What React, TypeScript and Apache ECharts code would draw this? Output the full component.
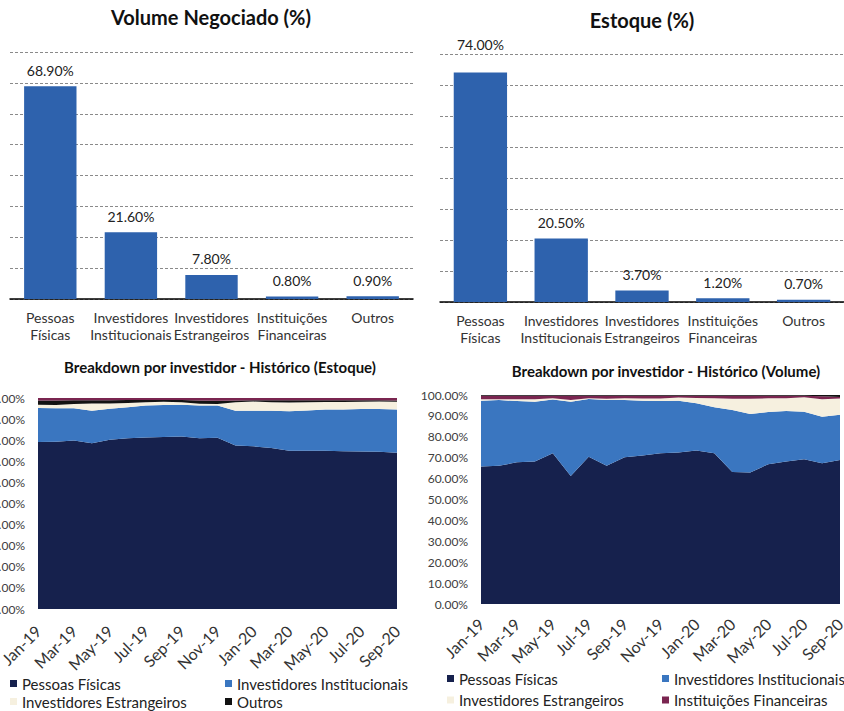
import React, { useEffect, useRef } from "react";
import * as echarts from "echarts";

const barCategories = [
  "Pessoas Físicas",
  "Investidores Institucionais",
  "Investidores Estrangeiros",
  "Instituições Financeiras",
  "Outros",
];
const volumeShares = [68.9, 21.6, 7.8, 0.8, 0.9];
const estoqueShares = [74.0, 20.5, 3.7, 1.2, 0.7];

const months = [
  "Jan-19", "Feb-19", "Mar-19", "Apr-19", "May-19", "Jun-19", "Jul-19",
  "Aug-19", "Sep-19", "Oct-19", "Nov-19", "Dec-19", "Jan-20", "Feb-20",
  "Mar-20", "Apr-20", "May-20", "Jun-20", "Jul-20", "Aug-20", "Sep-20",
];

// Histórico (Estoque)
const estPF = [79.1, 79.3, 79.9, 78.6, 80.2, 80.9, 81.3, 81.5, 81.8, 80.9, 81.2, 77.5, 77.1, 76.3, 75.0, 75.0, 75.0, 74.8, 74.7, 74.5, 74.0];
const estII = [16.2, 15.8, 15.2, 15.4, 14.7, 14.7, 15.1, 15.2, 15.0, 15.5, 15.2, 16.5, 16.9, 17.7, 18.7, 19.1, 19.5, 19.8, 20.1, 20.3, 20.5];
const estIE = [1.5, 1.6, 2.0, 3.4, 2.5, 2.0, 1.6, 1.5, 1.2, 0.9, 0.8, 4.0, 4.3, 4.0, 4.2, 3.9, 3.6, 3.5, 3.4, 3.5, 3.7];
const estOutros = [2.0, 2.1, 1.8, 1.5, 1.5, 1.4, 1.0, 0.8, 1.0, 1.5, 1.5, 0.8, 0.6, 0.9, 1.0, 0.9, 0.8, 0.8, 0.7, 0.6, 0.6];
const estIF = [1.2, 1.2, 1.1, 1.1, 1.1, 1.0, 1.0, 1.0, 1.0, 1.2, 1.3, 1.2, 1.1, 1.1, 1.1, 1.1, 1.1, 1.1, 1.1, 1.1, 1.2];

// Histórico (Volume)
const volPF = [65.8, 66.1, 67.8, 68.2, 72.1, 61.3, 70.5, 66.2, 70.2, 71.0, 72.1, 72.5, 73.4, 72.1, 63.1, 62.9, 66.9, 68.2, 69.3, 67.4, 68.9];
const volII = [31.5, 31.5, 29.3, 28.6, 25.8, 35.5, 27.6, 31.4, 27.4, 26.3, 25.0, 24.8, 22.6, 22.0, 29.7, 28.0, 25.0, 24.2, 22.7, 22.2, 21.6];
const volIE = [0.7, 0.4, 0.9, 1.2, 0.6, 0.8, 0.4, 0.6, 0.8, 1.0, 1.2, 1.5, 2.6, 4.3, 5.4, 7.3, 6.5, 6.0, 6.9, 8.4, 7.8];
const volIF = [1.6, 1.6, 1.6, 1.6, 1.1, 2.0, 1.1, 1.4, 1.2, 1.3, 1.3, 0.8, 1.0, 1.2, 1.4, 1.4, 1.2, 1.2, 0.7, 1.4, 0.8];
const volOutros = [0.4, 0.4, 0.4, 0.4, 0.4, 0.4, 0.4, 0.4, 0.4, 0.4, 0.4, 0.4, 0.4, 0.4, 0.4, 0.4, 0.4, 0.4, 0.4, 0.6, 0.9];

const C_PF = "#16214d";
const C_II = "#3a76c0";
const C_IE = "#f6f0df";
const C_IF = "#7a2550";
const C_OUT = "#121212";
const C_BAR = "#2e62ad";
const FONT = "Lato";

function pct(v: number) {
  return v.toFixed(2) + "%";
}

export default function App() {
  const ref = useRef<HTMLDivElement>(null);
  useEffect(() => {
    if (!ref.current) return;
    const chart = echarts.init(ref.current, undefined, { renderer: "svg" });

    const barXAxis = (gridIndex: number) => ({
      type: "category",
      gridIndex,
      data: barCategories,
      axisLine: { show: true, lineStyle: { color: "#000", width: 1.5 } },
      axisTick: { show: false },
      axisLabel: {
        interval: 0,
        formatter: (s: string) => s.replace(" ", "\n"),
        fontSize: 14,
        lineHeight: 17,
        color: "#333",
        margin: 10,
        fontFamily: FONT,
      },
    });
    const barYAxis = (gridIndex: number) => ({
      type: "value",
      gridIndex,
      min: 0,
      max: 80,
      interval: 10,
      axisLabel: { show: false },
      axisLine: { show: false },
      axisTick: { show: false },
      splitLine: { show: true, lineStyle: { color: "#8a8a8a", width: 1, type: [3, 2] } },
    });
    const histXAxis = (gridIndex: number, margin: number) => ({
      type: "category",
      gridIndex,
      data: months,
      boundaryGap: false,
      axisLine: { show: false },
      axisTick: { show: false },
      axisLabel: {
        rotate: 45,
        interval: 1,
        hideOverlap: false,
        fontSize: 16,
        color: "#333",
        margin,
        fontFamily: FONT,
      },
    });
    const histYAxis = (gridIndex: number) => ({
      type: "value",
      gridIndex,
      min: 0,
      max: 100,
      interval: 10,
      axisLine: { show: false },
      axisTick: { show: false },
      splitLine: { show: false },
      axisLabel: {
        formatter: (v: number) => pct(v),
        fontSize: 12,
        color: "#404040",
        margin: 13,
        fontFamily: FONT,
      },
    });

    const barLabel = {
      show: true,
      position: "top",
      distance: 9,
      formatter: (p: any) => pct(p.value),
      fontSize: 14,
      color: "#222",
      fontFamily: FONT,
    };

    const area = (name: string, data: number[], color: string, idx: number, stack: string) => ({
      name,
      type: "line",
      xAxisIndex: idx,
      yAxisIndex: idx,
      stack,
      data,
      symbol: "none",
      lineStyle: { width: 0 },
      itemStyle: { color },
      areaStyle: { color, opacity: 1 },
      z: 2,
    });

    const legend = (names: string[], left: number, top: number, gap: number) => ({
      orient: "vertical",
      left,
      top,
      itemGap: gap,
      itemWidth: 7,
      itemHeight: 7,
      icon: "rect",
      padding: 0,
      selectedMode: false,
      data: names,
      textStyle: { fontSize: 15, color: "#222", fontFamily: FONT, lineHeight: 14 },
    });

    const titleText = (text: string, x: number, y: number, size: number) => ({
      type: "text",
      x,
      y,
      style: {
        text,
        fontSize: size,
        fontWeight: "bold",
        fontFamily: FONT,
        fill: "#111",
        textAlign: "center",
        textVerticalAlign: "middle",
      },
    });

    chart.setOption({
      animation: false,
      textStyle: { fontFamily: FONT },
      graphic: [
        titleText("Volume Negociado (%)", 211, 17, 20),
        titleText("Estoque (%)", 642, 20, 20),
        titleText("Breakdown por investidor - Histórico (Estoque)", 220, 367, 15),
        titleText("Breakdown por investidor - Histórico (Volume)", 666, 371, 15),
      ],
      grid: [
        { left: 10, right: 431, top: 52, bottom: 412, outerBoundsMode: "none" },
        { left: 440, right: 0, top: 54, bottom: 409, outerBoundsMode: "none" },
        { left: 38, right: 447, top: 398, bottom: 102, outerBoundsMode: "none" },
        { left: 481, right: 4, top: 395, bottom: 107, outerBoundsMode: "none" },
      ],
      xAxis: [barXAxis(0), barXAxis(1), histXAxis(2, 19), histXAxis(3, 17)],
      yAxis: [barYAxis(0), barYAxis(1), histYAxis(2), histYAxis(3)],
      legend: [
        legend(["Pessoas Físicas", "Investidores Estrangeiros"], 10, 676, 3),
        legend(["Investidores Institucionais", "Outros"], 225, 676, 3),
        legend(["Pessoas Físicas", "Investidores Estrangeiros"], 447, 671, 6.5),
        legend(["Investidores Institucionais", "Instituições Financeiras"], 662, 671, 6.5),
      ],
      series: [
        {
          type: "bar",
          xAxisIndex: 0,
          yAxisIndex: 0,
          data: volumeShares,
          barWidth: "65%",
          itemStyle: { color: C_BAR },
          label: barLabel,
          z: 3,
        },
        {
          type: "bar",
          xAxisIndex: 1,
          yAxisIndex: 1,
          data: estoqueShares.map((v, i) =>
            i === 0 ? { value: v, label: { offset: [0, -12] } } : v
          ),
          barWidth: "66%",
          itemStyle: { color: C_BAR },
          label: barLabel,
          z: 3,
        },
        area("Pessoas Físicas", estPF, C_PF, 2, "est"),
        area("Investidores Institucionais", estII, C_II, 2, "est"),
        area("Investidores Estrangeiros", estIE, C_IE, 2, "est"),
        area("Outros", estOutros, C_OUT, 2, "est"),
        area("Instituições Financeiras", estIF, C_IF, 2, "est"),
        area("Pessoas Físicas", volPF, C_PF, 3, "vol"),
        area("Investidores Institucionais", volII, C_II, 3, "vol"),
        area("Investidores Estrangeiros", volIE, C_IE, 3, "vol"),
        area("Instituições Financeiras", volIF, C_IF, 3, "vol"),
        area("Outros", volOutros, C_OUT, 3, "vol"),
      ],
    });
    return () => chart.dispose();
  }, []);
  return (
    <div
      ref={ref}
      style={{ position: "absolute", left: 0, top: 0, width: 844, height: 711, background: "#fff" }}
    />
  );
}
